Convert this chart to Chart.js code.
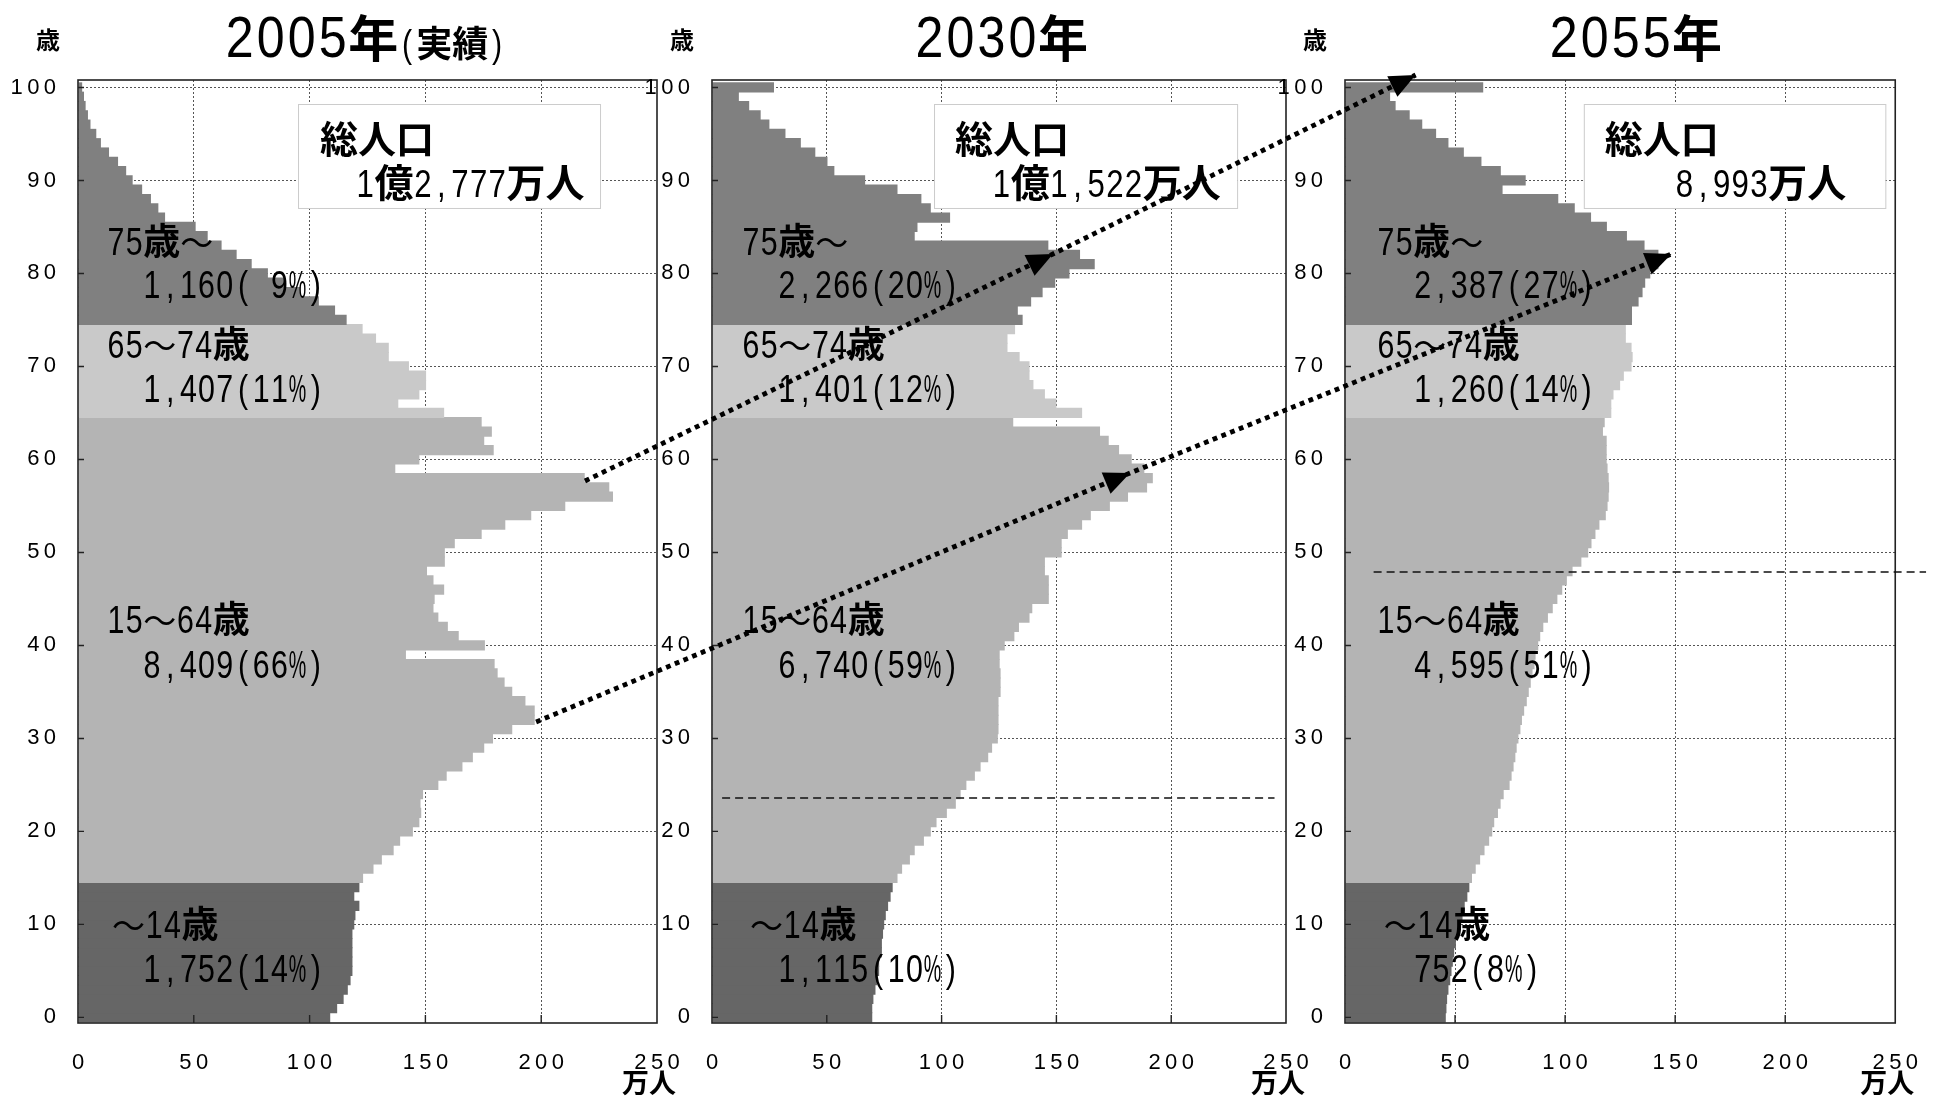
<!DOCTYPE html>
<html><head><meta charset="utf-8">
<script src="https://cdn.jsdelivr.net/npm/chart.js@4.4.1/dist/chart.umd.min.js"></script>
<style>
html,body{margin:0;padding:0;background:#fff;}
#wrap{position:relative;width:1945px;height:1097px;overflow:hidden;background:#fff;}
canvas{position:absolute;left:0;top:0;}
</style></head><body>
<div id="wrap">
<canvas id="c1" width="1945" height="1097"></canvas>
<canvas id="c2" width="1945" height="1097"></canvas>
<canvas id="c3" width="1945" height="1097"></canvas>
</div>
<script>
// ---------- DATA (万人, single years of age 0..100+) ----------
const ages = Array.from({length: 101}, (_, i) => i);
const pop2005 = [
 108.9,111.9,114.7,116.5,117.7,118.5,118.5,118.5,118.5,118.5,
 119.3,119.8,121.5,119.3,121.5,123.1,127.6,131.2,136.3,139.1,
 144.6,147.4,148.2,147.9,149.0,155.6,159.2,166.0,170.5,175.4,
 179.2,187.5,197.2,197.2,193.2,187.5,184.2,181.2,179.9,141.6,
 175.7,164.4,159.7,155.6,153.5,154.0,158.1,153.5,150.7,158.4,
 158.4,162.7,174.3,184.5,195.7,210.4,231.0,229.4,218.8,137.0,
 147.4,179.5,175.4,178.7,174.3,158.1,138.3,147.4,150.3,150.3,
 142.9,134.2,134.2,128.7,122.9,116.0,111.0,104.0,96.0,89.0,
 82.0,75.0,68.5,62.0,56.0,50.8,37.6,34.7,31.5,27.7,
 23.6,20.8,17.3,13.4,9.9,7.9,5.4,4.3,3.3,2.6,
 1.8];
const pop2030 = [
 69.8,69.8,70.3,71.2,72.0,72.8,72.8,74.0,74.0,74.5,
 75.0,75.7,76.7,77.8,78.7,80.8,82.8,86.2,88.3,92.3,
 95.3,97.8,102.3,106.2,108.3,110.8,114.5,117.0,120.3,122.0,
 124.5,124.8,124.8,124.8,124.8,125.7,125.7,125.7,125.3,125.3,
 127.5,131.7,133.7,138.3,139.5,146.7,146.7,146.7,145.0,145.0,
 152.3,152.3,155.0,161.2,165.0,173.3,181.2,189.5,192.0,188.3,
 182.8,177.3,172.8,169.0,131.2,161.2,150.0,145.0,140.0,138.3,
 138.3,134.0,128.7,128.7,132.0,135.3,133.2,139.0,144.0,149.5,
 155.7,166.7,160.3,146.5,88.3,89.5,103.7,95.3,91.2,80.8,
 66.7,53.3,50.3,45.0,38.7,32.0,25.0,21.2,16.2,11.7,
 27.0];
const pop2055 = [
 45.8,46.1,46.4,47.0,47.8,48.4,49.0,49.6,50.4,51.3,
 52.3,53.4,54.4,55.6,56.5,57.7,59.4,61.4,63.4,65.5,
 66.9,67.8,69.5,70.7,72.1,74.8,75.7,76.6,77.4,78.0,
 78.8,79.7,80.4,81.4,82.6,83.5,84.4,85.2,86.1,86.6,
 87.8,88.7,90.1,92.2,94.4,96.5,98.7,100.8,103.4,107.4,
 110.5,112.0,113.8,115.6,118.5,119.3,119.8,120.0,119.8,119.3,
 118.9,118.9,118.9,117.2,118.0,121.0,121.0,122.0,125.0,126.7,
 130.2,130.7,130.2,127.6,127.6,130.4,130.4,133.4,135.2,136.4,
 138.7,142.4,142.4,136.1,128.1,119.0,111.8,104.4,96.9,71.6,
 82.1,70.8,62.0,54.0,47.0,41.4,35.1,29.4,23.0,20.5,
 62.8];
const xTickValues = [0, 50, 100, 150, 200, 250];
const yTickValues = [0, 10, 20, 30, 40, 50, 60, 70, 80, 90, 100];
const groupNames = ["75歳～", "65～74歳", "15～64歳", "～14歳"];
const groupSums2005 = ["1,160( 9%)", "1,407(11%)", "8,409(66%)", "1,752(14%)"];
const groupSums2030 = ["2,266(20%)", "1,401(12%)", "6,740(59%)", "1,115(10%)"];
const groupSums2055 = ["2,387(27%)", "1,260(14%)", "4,595(51%)", "752(8%)"];
const totalLabel = "総人口";
const totals = ["1億2,777万人", "1億1,522万人", "8,993万人"];
const titleYears = ["2005", "2030", "2055"];
const titleSuffix = ["(実績)", "", ""];

// ---------- LAYOUT ----------
const W = 1945, H = 1097, TOP = 80, BOTTOM = 1023, YW = 72;
const panels = [
  {left: 78, right: 657, titleX: 124, nameX: 12.5, tildeX: 14.7, numX: 28, box: [95, 225.4], boxTX: [104.5, 120], dash: null},
  {left: 712, right: 1286, titleX: 125.9, nameX: 13, tildeX: 16.6, numX: 28.7, box: [96.7, 228.7], boxTX: [105.8, 122], dash: {y: 23.6, x0: 4.4, x1: 245}},
  {left: 1345, right: 1898, titleX: 131.8, nameX: 14.5, tildeX: 17.6, numX: 31.2, box: [108.5, 245.5], boxTX: [118, 150], dash: {y: 47.9, x0: 13, x1: 264}}
];
const nameAges = [81.98, 70.9, 41.34, 8.54];
const sumAges = [77.36, 66.18, 36.5, 3.8];
const boxAges = {top: 98.22, bottom: 87.04, line1: 92.95, line2: 88.2};
// arrows: [panelIndex, x, age]
const arrowA = [[0, 218.9, 57.68], [1, 148.5, 82.09], [2, 32.1, 101.34]];
const arrowB = [[0, 197.8, 31.77], [1, 182.1, 58.54], [2, 148.3, 82.09]];

function colorFor(age) {
  return age >= 75 ? '#808080' : age >= 65 ? '#c9c9c9' : age >= 15 ? '#b4b4b4' : '#666666';
}

// ---------- TEXT HELPERS (narrow sans digits in fixed cells, bold CJK) ----------
const SANS = '"Liberation Sans", "Noto Sans", sans-serif';
const CJK = '"Noto Sans CJK JP", sans-serif';
function cjkFont(ch, cs) {
  return ch === '～' ? `${Math.round(cs * 0.9)}px ${CJK}` : `bold ${cs}px ${CJK}`;
}
function measureMixed(ctx, str, o) {
  const cell = o.cell || 18.2, cs = o.cjk || 38;
  let w = 0;
  for (const ch of str) {
    if (ch.charCodeAt(0) < 128) w += cell;
    else { ctx.font = cjkFont(ch, cs); w += ctx.measureText(ch).width; }
  }
  return w;
}
function drawMixed(ctx, str, x, y, o) {
  const cell = o.cell || 18.2, cs = o.cjk || 38, ss = o.sans || 38, k = o.k || 0.8;
  const w = measureMixed(ctx, str, o);
  let cx = o.align === 'center' ? x - w / 2 : o.align === 'right' ? x - w : x;
  ctx.save();
  ctx.textBaseline = 'alphabetic'; ctx.fillStyle = '#000';
  for (const ch of str) {
    if (ch.charCodeAt(0) < 128) {
      if (ch !== ' ') {
        ctx.font = `${ss}px ${SANS}`;
        const gw = ctx.measureText(ch).width;
        const kk = Math.min(k, (cell * 0.96) / Math.max(gw, 1));
        ctx.save(); ctx.translate(cx + cell / 2, y); ctx.scale(kk, 1);
        ctx.textAlign = 'center'; ctx.fillText(ch, 0, 0); ctx.restore();
      }
      cx += cell;
    } else {
      ctx.font = cjkFont(ch, cs); ctx.textAlign = 'left';
      const cw = ctx.measureText(ch).width;
      ctx.fillText(ch, cx, y);
      cx += cw;
    }
  }
  ctx.restore();
  return w;
}

const sumsByPanel = [groupSums2005, groupSums2030, groupSums2055];
const charts = [];
const LBL = {cell: 18.2, sans: 38, k: 0.8, cjk: 37};

function panelPlugin(idx) {
  return {
    id: 'panel' + idx,
    afterDraw(chart) {
      const ctx = chart.ctx, a = chart.chartArea;
      const xs = chart.scales.x, ys = chart.scales.y;
      const P = panels[idx];
      ctx.save();
      // frame
      ctx.strokeStyle = '#222'; ctx.lineWidth = 1.6;
      ctx.strokeRect(a.left, a.top, a.right - a.left, a.bottom - a.top);
      // inner tick marks
      ctx.lineWidth = 1.4;
      ctx.beginPath();
      for (const v of yTickValues) { const py = ys.getPixelForValue(v); ctx.moveTo(a.left, py); ctx.lineTo(a.left + 6, py); }
      for (const v of xTickValues.slice(1, -1)) { const px = xs.getPixelForValue(v); ctx.moveTo(px, a.bottom); ctx.lineTo(px, a.bottom - 8); }
      ctx.stroke();
      // dashed line
      if (P.dash) {
        ctx.save(); ctx.strokeStyle = '#111'; ctx.lineWidth = 1.5; ctx.setLineDash([8, 5]);
        const py = ys.getPixelForValue(P.dash.y);
        ctx.beginPath(); ctx.moveTo(xs.getPixelForValue(P.dash.x0), py); ctx.lineTo(xs.getPixelForValue(P.dash.x1), py); ctx.stroke();
        ctx.restore();
      }
      // total population box
      const bx0 = xs.getPixelForValue(P.box[0]), bx1 = xs.getPixelForValue(P.box[1]);
      const by0 = ys.getPixelForValue(boxAges.top), by1 = ys.getPixelForValue(boxAges.bottom);
      ctx.fillStyle = '#fff'; ctx.fillRect(bx0, by0, bx1 - bx0, by1 - by0);
      ctx.strokeStyle = '#cccccc'; ctx.lineWidth = 1; ctx.strokeRect(bx0 + 0.5, by0 + 0.5, bx1 - bx0, by1 - by0);
      drawMixed(ctx, totalLabel, xs.getPixelForValue(P.boxTX[0]), ys.getPixelForValue(boxAges.line1), {cjk: 38});
      drawMixed(ctx, totals[idx], xs.getPixelForValue(P.boxTX[1]), ys.getPixelForValue(boxAges.line2), {cell: 18.6, sans: 39, k: 0.8, cjk: 39});
      // group labels
      const sums = sumsByPanel[idx];
      for (let g = 0; g < 4; g++) {
        const nx = g === 3 ? P.tildeX : P.nameX;
        drawMixed(ctx, groupNames[g], xs.getPixelForValue(nx), ys.getPixelForValue(nameAges[g]), LBL);
        drawMixed(ctx, sums[g], xs.getPixelForValue(P.numX), ys.getPixelForValue(sumAges[g]), LBL);
      }
      // title
      const tx = xs.getPixelForValue(P.titleX), tyy = a.top - 23;
      const segs = [[titleYears[idx], {cell: 31, sans: 57, k: 0.88}], ['年', {cjk: 50}]];
      if (titleSuffix[idx]) segs.push([titleSuffix[idx], {cell: 18, sans: 38, k: 0.8, cjk: 36}]);
      let tw = 0; for (const s of segs) tw += measureMixed(ctx, s[0], s[1]);
      let cx = tx - tw / 2;
      for (const s of segs) cx += drawMixed(ctx, s[0], cx, tyy, s[1]);
      // axis unit labels
      ctx.fillStyle = '#000'; ctx.textAlign = 'center'; ctx.textBaseline = 'alphabetic';
      ctx.font = `bold 24px ${CJK}`;
      ctx.fillText('歳', a.left - 30, 49);
      ctx.font = `bold 27px ${CJK}`;
      ctx.fillText('万人', a.right - 8, 1093);
      ctx.restore();
    }
  };
}

const arrowPlugin = {
  id: 'arrows',
  afterDraw(chart) {
    const ctx = chart.ctx;
    const toPx = p => {
      const c = charts[p[0]] || chart;
      return [c.scales.x.getPixelForValue(p[1]), c.scales.y.getPixelForValue(p[2])];
    };
    for (const arr of [arrowA, arrowB]) {
      const pts = arr.map(toPx);
      ctx.save();
      ctx.strokeStyle = '#000'; ctx.lineWidth = 4.8; ctx.lineCap = 'butt';
      ctx.setLineDash([4.8, 4.6]);
      ctx.beginPath(); ctx.moveTo(pts[0][0], pts[0][1]);
      for (let i = 1; i < pts.length; i++) ctx.lineTo(pts[i][0], pts[i][1]);
      ctx.stroke();
      ctx.setLineDash([]);
      ctx.fillStyle = '#000';
      for (let i = 1; i < pts.length; i++) {
        const [x0, y0] = pts[i - 1], [x1, y1] = pts[i];
        const ang = Math.atan2(y1 - y0, x1 - x0);
        const L = 26, hw = 11.5;
        const bx = x1 - L * Math.cos(ang), by = y1 - L * Math.sin(ang);
        ctx.beginPath();
        ctx.moveTo(x1, y1);
        ctx.lineTo(bx + hw * Math.sin(ang), by - hw * Math.cos(ang));
        ctx.lineTo(bx - hw * Math.sin(ang), by + hw * Math.cos(ang));
        ctx.closePath(); ctx.fill();
      }
      ctx.restore();
    }
  }
};

const spaced = v => String(v).split('').join('\u2009');

const seriesList = [pop2005, pop2030, pop2055];
seriesList.forEach((vals, idx) => {
  const P = panels[idx];
  const plugins = [panelPlugin(idx)];
  if (idx === 2) plugins.push(arrowPlugin);
  const chart = new Chart(document.getElementById('c' + (idx + 1)), {
    type: 'bar',
    data: {
      datasets: [{
        data: ages.map((a, i) => ({x: vals[i], y: a})),
        backgroundColor: ages.map(colorFor),
        borderWidth: 0,
        barPercentage: 1.1,
        categoryPercentage: 1
      }]
    },
    options: {
      indexAxis: 'y',
      responsive: false,
      animation: false,
      events: [],
      layout: {padding: {left: P.left - YW, right: W - P.right, top: TOP, bottom: H - BOTTOM - 60}},
      plugins: {legend: {display: false}, tooltip: {enabled: false}},
      scales: {
        x: {
          type: 'linear', position: 'bottom', min: 0, max: 250,
          afterFit: s => { s.height = 60; },
          afterBuildTicks: s => { s.ticks = xTickValues.map(v => ({value: v})); },
          grid: {color: c => (c.tick && (c.tick.value === 0 || c.tick.value === 250)) ? 'rgba(0,0,0,0)' : '#555', lineWidth: 1, drawTicks: false},
          border: {display: false, dash: [2, 2]},
          ticks: {padding: 27, color: '#000', font: {family: SANS, size: 22}, maxRotation: 0, autoSkip: false, callback: v => spaced(v)}
        },
        y: {
          type: 'linear', position: 'left', min: -0.6, max: 100.8, offset: false,
          afterFit: s => { s.width = YW; },
          afterBuildTicks: s => { s.ticks = yTickValues.map(v => ({value: v})); },
          grid: {color: c => (c.tick && c.tick.value === 0) ? 'rgba(0,0,0,0)' : '#555', lineWidth: 1, drawTicks: false, offset: false},
          border: {display: false, dash: [2, 2]},
          ticks: {padding: 22, color: '#000', font: {family: SANS, size: 22}, autoSkip: false, callback: v => spaced(v)}
        }
      }
    },
    plugins
  });
  charts.push(chart);
});
</script>
</body></html>
